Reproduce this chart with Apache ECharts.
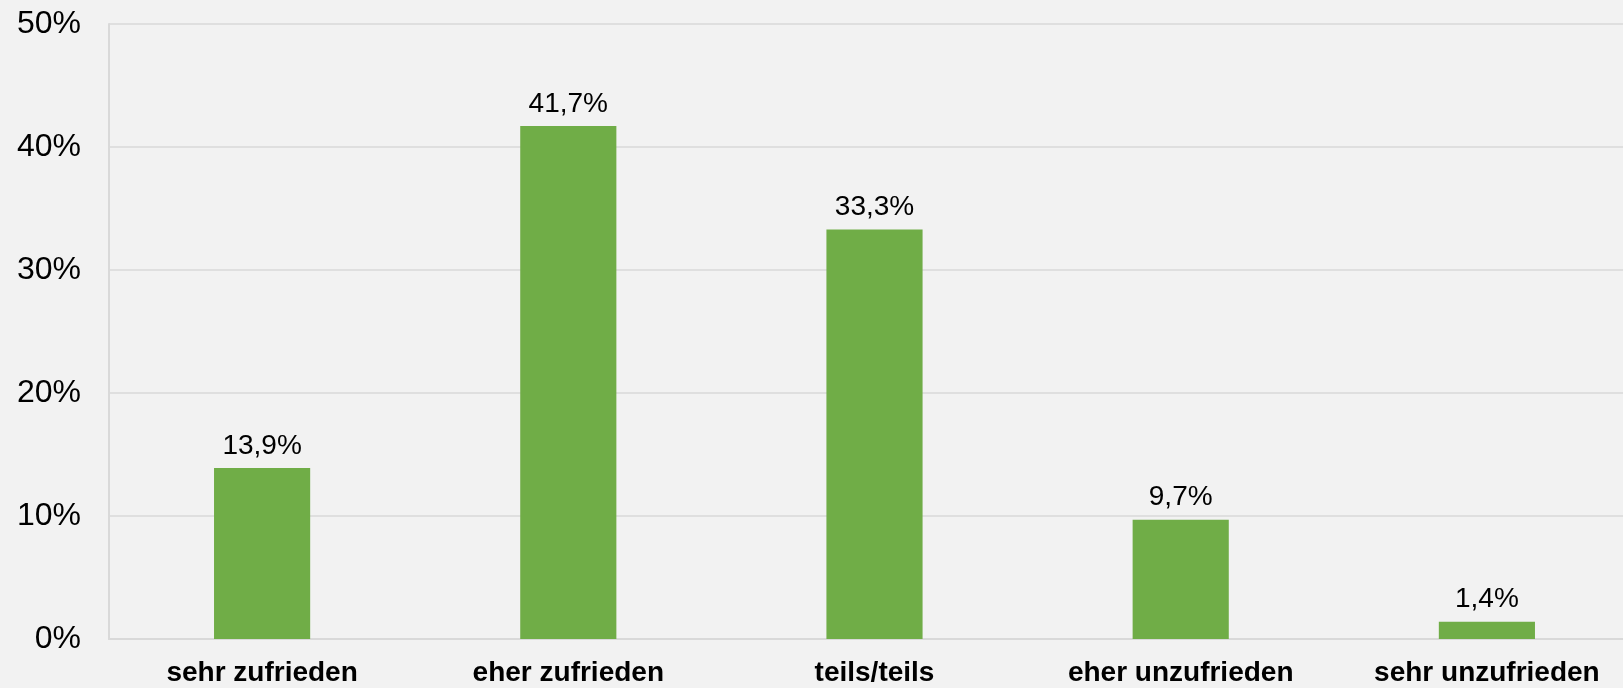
<!DOCTYPE html>
<html>
<head>
<meta charset="utf-8">
<script src="https://cdn.jsdelivr.net/npm/echarts@6/dist/echarts.min.js"></script>
<style>
  html, body { margin: 0; padding: 0; background: #f2f2f2; overflow: hidden; }
  /* the original plot runs a little past the right edge of the picture */
  #chart { width: 1640px; height: 688px; }
</style>
</head>
<body>
<div id="chart"></div>
<script>
// Zufriedenheit - Anteile in Prozent
const categories = ['sehr zufrieden', 'eher zufrieden', 'teils/teils', 'eher unzufrieden', 'sehr unzufrieden'];
const shares = [13.9, 41.7, 33.3, 9.7, 1.4];
const yTicks = [0, 10, 20, 30, 40, 50];

const fontFamily = '"Liberation Sans", Arial, sans-serif';

let chart = echarts.init(document.getElementById('chart'));
let option = {
    backgroundColor: '#f2f2f2',
    animation: false,
    grid: {
        left: 109,
        right: 0,
        top: 24,
        bottom: 49
    },
    xAxis: {
        type: 'category',
        data: categories,
        axisLine: { lineStyle: { color: '#d9d9d9', width: 2 } },
        axisTick: { show: false },
        axisLabel: {
            color: '#000',
            fontFamily: fontFamily,
            fontSize: 28,
            fontWeight: 'bold',
            margin: 20
        }
    },
    yAxis: {
        type: 'value',
        min: yTicks[0],
        max: yTicks[yTicks.length - 1],
        interval: 10,
        axisLine: { show: true, lineStyle: { color: '#d9d9d9', width: 2 } },
        axisTick: { show: false },
        splitLine: { lineStyle: { color: '#d9d9d9', width: 1.5 } },
        axisLabel: {
            color: '#000',
            fontFamily: fontFamily,
            fontSize: 32,
            margin: 28,
            formatter: v => v + '%'
        }
    },
    series: [{
        type: 'bar',
        data: shares,
        barWidth: '31.4%',
        itemStyle: { color: '#70ad47' },
        label: {
            show: true,
            position: 'top',
            distance: 8,
            color: '#000',
            fontFamily: fontFamily,
            fontSize: 28,
            formatter: p => p.value.toFixed(1).replace('.', ',') + '%'
        }
    }]
};
chart.setOption(option);
</script>
</body>
</html>
